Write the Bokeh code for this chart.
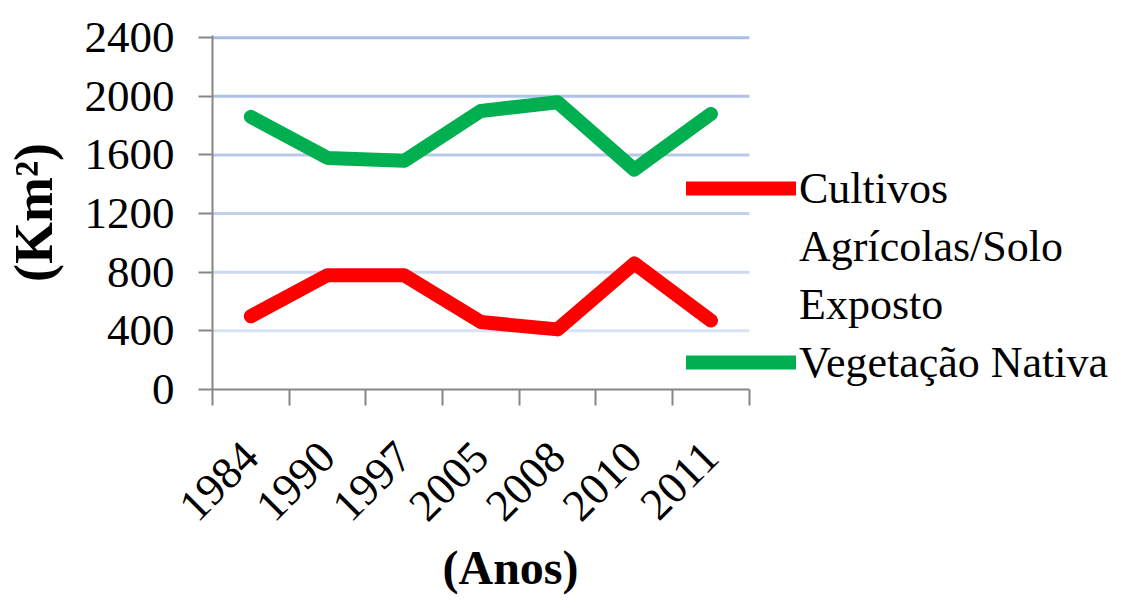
import math
from bokeh.plotting import figure
from bokeh.models import Range1d, FixedTicker, Legend, LegendItem, Title
from bokeh.embed import file_html
from bokeh.resources import INLINE

years = ["1984", "1990", "1997", "2005", "2008", "2010", "2011"]
cultivos = [500, 780, 780, 460, 410, 860, 470]
vegetacao = [1860, 1580, 1560, 1900, 1960, 1500, 1880]
y_ticks = [0, 400, 800, 1200, 1600, 2000, 2400]
legend_lines = ["Cultivos", "Agrícolas/Solo", "Exposto", "Vegetação Nativa"]
grid_colors = ["#d9e2f3", "#cdd9f0", "#c3d1ed", "#b8c9ea", "#afc2e7", "#a9bde5"]

FONT = "Liberation Serif"
AXIS_GRAY = "#868686"

n = len(years)
xs = [i + 0.5 for i in range(n)]

W, H = 1113, 595
LEFT, TOP, BOTTOM = 210, 35, 205
PX_PER_CAT = 538 / n
x_end = (W - LEFT) / PX_PER_CAT

p = figure(width=W, height=H, output_backend="svg", toolbar_location=None,
           x_range=Range1d(0, x_end), y_range=Range1d(0, 2415),
           min_border_left=LEFT, min_border_right=0, min_border_top=TOP, min_border_bottom=BOTTOM)
p.outline_line_color = None
p.background_fill_color = "white"
p.border_fill_color = "white"
p.xgrid.visible = False
p.ygrid.visible = False

# horizontal gridlines limited to the category span
gy = y_ticks[1:]
p.segment(x0=[0] * len(gy), y0=gy, x1=[n] * len(gy), y1=gy,
          line_color=grid_colors, line_width=3, level="underlay")

r_red = p.line(xs, cultivos, line_color="#ff0000", line_width=14, line_cap="round", line_join="round")
r_green = p.line(xs, vegetacao, line_color="#00b050", line_width=14, line_cap="round", line_join="round")
d1 = p.line([], [], line_alpha=0)
d2 = p.line([], [], line_alpha=0)

# y axis
ya = p.yaxis[0]
ya.ticker = FixedTicker(ticks=y_ticks)
ya.axis_line_color = AXIS_GRAY
ya.axis_line_width = 2
ya.major_tick_line_color = AXIS_GRAY
ya.major_tick_line_width = 2
ya.major_tick_out = 14
ya.major_tick_in = 0
ya.minor_tick_line_color = None
ya.major_label_text_font = FONT
ya.major_label_text_font_size = "45px"
ya.major_label_text_color = "black"
ya.major_label_standoff = 24
ya.axis_label = "(Km²)"
ya.axis_label_text_font = FONT
ya.axis_label_text_font_size = "54px"
ya.axis_label_text_font_style = "bold"
ya.axis_label_text_color = "black"
ya.axis_label_standoff = 18

# x axis
xa = p.xaxis[0]
xa.bounds = (0, n)
xa.ticker = FixedTicker(ticks=xs, minor_ticks=list(range(n + 1)))
xa.major_label_overrides = {x: y for x, y in zip(xs, years)}
xa.axis_line_color = AXIS_GRAY
xa.axis_line_width = 2
xa.major_tick_line_color = None
xa.major_tick_out = 0
xa.major_tick_in = 0
xa.minor_tick_line_color = AXIS_GRAY
xa.minor_tick_line_width = 2
xa.minor_tick_out = 16
xa.minor_tick_in = 0
xa.major_label_orientation = math.pi / 4
xa.major_label_text_font = FONT
xa.major_label_text_font_size = "45px"
xa.major_label_text_color = "black"
xa.major_label_standoff = 44

t = Title(text="(Anos)", align="left", offset=230, text_font=FONT, text_font_size="48px",
          text_font_style="bold", text_color="black", standoff=4)
p.add_layout(t, "below")

legend = Legend(items=[
    LegendItem(label=legend_lines[0], renderers=[r_red]),
    LegendItem(label=legend_lines[1], renderers=[d1]),
    LegendItem(label=legend_lines[2], renderers=[d2]),
    LegendItem(label=legend_lines[3], renderers=[r_green]),
], location=(474, -2), orientation="vertical")
legend.margin = 0
legend.padding = 0
legend.spacing = 0
legend.border_line_alpha = 0
legend.background_fill_alpha = 0
legend.glyph_width = 110
legend.glyph_height = 58
legend.label_height = 58
legend.label_standoff = 3
legend.label_text_font = FONT
legend.label_text_font_size = "44px"
legend.label_text_color = "black"
p.add_layout(legend, "center")

open("out.html", "w").write(file_html(p, INLINE))
